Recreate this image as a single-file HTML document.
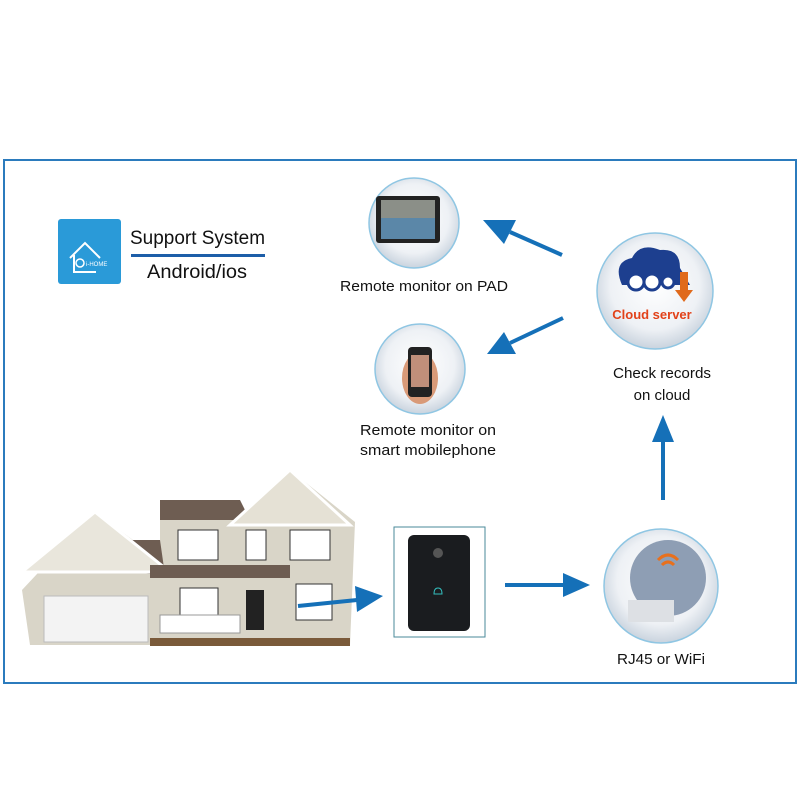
<!DOCTYPE html>
<html><head><style>
body{margin:0;background:#fff;}
svg text{font-family:"Liberation Sans",sans-serif;}
</style></head><body>
<svg width="800" height="800" viewBox="0 0 800 800" xmlns="http://www.w3.org/2000/svg">
<defs>
<radialGradient id="cg" cx="50%" cy="45%" r="55%"><stop offset="0" stop-color="#fff"/><stop offset="0.7" stop-color="#eef1f5"/><stop offset="1" stop-color="#c9d3de"/></radialGradient>
</defs>
<rect x="4" y="160" width="792" height="523" fill="#fff" stroke="#2b7bbd" stroke-width="2"/>
<!-- logo -->
<rect x="58" y="219" width="63" height="65" rx="3" fill="#2a9ad8"/>
<path d="M70 258 L85 243 L100 258 M74 255 V272 H96" stroke="#fff" stroke-width="2" fill="none"/>
<circle cx="80" cy="263" r="4" fill="none" stroke="#fff" stroke-width="1.5"/>
<text x="86" y="266" font-size="6" fill="#fff">i-HOME</text>
<text x="130" y="244" font-size="19" fill="#111" textLength="135" lengthAdjust="spacingAndGlyphs">Support System</text>
<rect x="131" y="254" width="134" height="3" fill="#1d5ea8"/>
<text x="147" y="278" font-size="19" fill="#111" textLength="100" lengthAdjust="spacingAndGlyphs">Android/ios</text>
<!-- PAD circle -->
<circle cx="414" cy="223" r="45" fill="url(#cg)" stroke="#8fc6e3" stroke-width="1.5"/>
<rect x="376" y="196" width="64" height="47" rx="3" fill="#222"/>
<rect x="381" y="200" width="54" height="39" fill="#5b87a8"/>
<rect x="381" y="200" width="54" height="18" fill="#8b8f88"/>
<text x="424" y="291" font-size="15" text-anchor="middle" fill="#111" textLength="168" lengthAdjust="spacingAndGlyphs">Remote monitor on PAD</text>
<!-- phone circle -->
<circle cx="420" cy="369" r="45" fill="url(#cg)" stroke="#8fc6e3" stroke-width="1.5"/>
<ellipse cx="420" cy="378" rx="18" ry="26" fill="#d99a78"/>
<rect x="408" y="347" width="24" height="50" rx="4" fill="#222"/>
<rect x="411" y="355" width="18" height="32" fill="#c08f7a"/>
<text x="428" y="435" font-size="15" text-anchor="middle" fill="#111" textLength="136" lengthAdjust="spacingAndGlyphs">Remote monitor on</text>
<text x="428" y="455" font-size="15" text-anchor="middle" fill="#111" textLength="136" lengthAdjust="spacingAndGlyphs">smart mobilephone</text>
<!-- cloud circle -->
<circle cx="655" cy="291" r="58" fill="url(#cg)" stroke="#8fc6e3" stroke-width="1.5"/>
<path d="M622 285 Q612 262 632 258 Q640 242 660 250 Q680 248 680 268 L690 285 Z" fill="#1d3f8f"/>
<circle cx="636" cy="282" r="8" fill="#fff" stroke="#1d3f8f" stroke-width="3"/>
<circle cx="652" cy="282" r="8" fill="#fff" stroke="#1d3f8f" stroke-width="3"/>
<circle cx="668" cy="282" r="6" fill="#fff" stroke="#1d3f8f" stroke-width="3"/>
<path d="M680 272 V290 H675 L684 302 L693 290 H688 V272Z" fill="#e06a1c"/>
<text x="652" y="319" font-size="13" font-weight="bold" text-anchor="middle" fill="#e2421a">Cloud server</text>
<text x="662" y="378" font-size="15" text-anchor="middle" fill="#111" textLength="98" lengthAdjust="spacingAndGlyphs">Check records</text>
<text x="662" y="400" font-size="15" text-anchor="middle" fill="#111">on cloud</text>
<!-- router circle -->
<circle cx="661" cy="586" r="57" fill="url(#cg)" stroke="#8fc6e3" stroke-width="1.5"/>
<circle cx="668" cy="578" r="38" fill="#8e9eb4"/>
<rect x="628" y="600" width="46" height="22" fill="#dde0e4"/>
<path d="M658 560 q10-10 20 0 M662 565 q6-6 12 0" stroke="#e8701c" stroke-width="3" fill="none"/>
<text x="661" y="664" font-size="15" text-anchor="middle" fill="#111" textLength="88" lengthAdjust="spacingAndGlyphs">RJ45 or WiFi</text>
<!-- doorbell -->
<rect x="394" y="527" width="91" height="110" fill="#fff" stroke="#4a8a9a" stroke-width="1"/>
<rect x="408" y="535" width="62" height="96" rx="6" fill="#1a1c1f"/>
<circle cx="438" cy="553" r="5" fill="#555"/>
<path d="M438 588 q-4 0-4 6 h8 q0-6-4-6z" stroke="#3bb" fill="none"/>
<!-- house -->
<polygon points="22,590 95,512 160,560 160,520 250,520 290,470 355,522 350,645 30,645" fill="#d9d5c8"/>
<polygon points="40,565 60,540 160,540 165,575" fill="#6e5d52"/>
<polygon points="22,572 95,512 170,572" fill="#e9e6dc" stroke="#fff" stroke-width="3"/>
<polygon points="160,520 250,520 240,500 160,500" fill="#6e5d52"/>
<polygon points="230,525 290,470 350,525" fill="#e5e1d5" stroke="#fff" stroke-width="3"/>
<polygon points="150,565 290,565 290,578 150,578" fill="#6e5d52"/>
<rect x="44" y="596" width="104" height="46" fill="#f3f3f3" stroke="#bbb"/>
<rect x="178" y="530" width="40" height="30" fill="#fff" stroke="#333"/>
<rect x="290" y="530" width="40" height="30" fill="#fff" stroke="#333"/>
<rect x="246" y="530" width="20" height="30" fill="#fff" stroke="#333"/>
<rect x="180" y="588" width="38" height="28" fill="#fff" stroke="#333"/>
<rect x="296" y="584" width="36" height="36" fill="#fff" stroke="#333"/>
<rect x="246" y="590" width="18" height="40" fill="#222"/>
<rect x="160" y="615" width="80" height="18" fill="#fff" stroke="#999"/>
<rect x="150" y="638" width="200" height="8" fill="#7a5a3a"/>
<!-- arrows -->
<g stroke="#1570b8" stroke-width="4" fill="#1570b8">
<line x1="562" y1="255" x2="510" y2="232"/>
<polygon points="483,220 516,220 504,244" stroke="none"/>
<line x1="563" y1="318" x2="510" y2="343"/>
<polygon points="487,354 504,332 516,354" stroke="none"/>
<line x1="663" y1="500" x2="663" y2="440"/>
<polygon points="663,415 652,442 674,442" stroke="none"/>
<line x1="505" y1="585" x2="565" y2="585"/>
<polygon points="590,585 563,573 563,597" stroke="none"/>
<line x1="298" y1="606" x2="357" y2="600"/>
<polygon points="383,596 355,586 357,612" stroke="none"/>
</g>
</svg>
</body></html>
